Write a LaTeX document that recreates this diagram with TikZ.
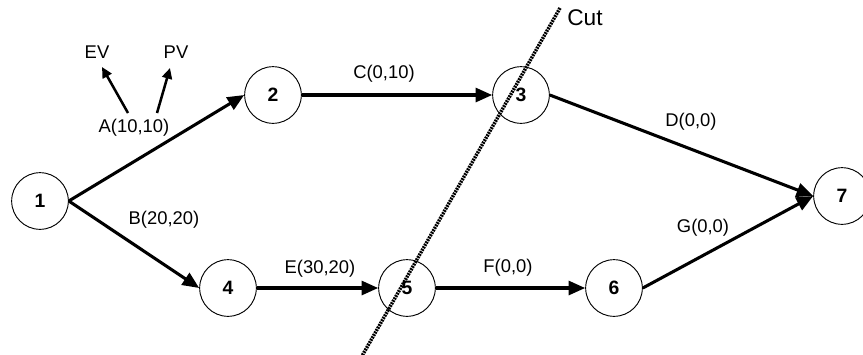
\documentclass[tikz,border=0pt]{standalone}
\usepackage{fontspec}
\setmainfont{Liberation Sans}
\usetikzlibrary{arrows.meta}
\begin{document}
\begin{tikzpicture}[x=0.75pt,y=-0.75pt,
  event/.style={circle,draw,line width=0.7pt,fill=white,inner sep=0pt,minimum size=42.5pt,font=\fontsize{14.5}{17}\selectfont\bfseries},
  act/.style={line width=2.3pt,-{Triangle[length=12.5pt,width=10.5pt]}},
  small/.style={line width=1.9pt,-{Triangle[length=8pt,width=7.5pt]}},
  lbl/.style={font=\fontsize{13.8}{16}\selectfont,inner sep=0pt},
  cutline/.style={line width=2.6pt,dash pattern=on 1.4pt off 0.7pt}]
\useasboundingbox (0,0) rectangle (863,354);
\node[event] (n1) at (40,201) {1};
\node[event] (n2) at (273,95) {2};
\node[event] (n3) at (521,95) {3};
\node[event] (n4) at (228,288) {4};
\node[event] (n5) at (407,288) {5};
\node[event] (n6) at (614,288) {6};
\node[event] (n7) at (842,196) {7};
\draw[act] (n1.east) -- (n2.west);
\draw[act] (n1.east) -- (n4.west);
\draw[act] (n2.east) -- (n3.west);
\draw[act] (n3.east) -- (n7.west);
\draw[act] (n4.east) -- (n5.west);
\draw[act] (n5.east) -- (n6.west);
\draw[act] (n6.east) -- (n7.west);
\node[lbl] (la) at (134,128) {A(10,10)};
\node[lbl] (lb) at (164,220) {B(20,20)};
\node[lbl] (lc) at (384,74) {C(0,10)};
\node[lbl] (ld) at (691,122) {D(0,0)};
\node[lbl] (le) at (320,269) {E(30,20)};
\node[lbl] (lf) at (508,268) {F(0,0)};
\node[lbl] (lg) at (703,228) {G(0,0)};
\node[lbl] (ev) at (97,52) {EV};
\node[lbl] (pv) at (176,52) {PV};
\coordinate (evs) at (128,113);
\coordinate (evt) at (102,67);
\coordinate (pvs) at (157,113);
\coordinate (pvt) at (170,68);
\draw[small] (evs) -- (evt);
\draw[small] (pvs) -- (pvt);
\coordinate (cuta) at (560,8);
\coordinate (cutb) at (362,356);
\draw[cutline] (cuta) -- (cutb);
\node[lbl,font=\fontsize{17}{20}\selectfont] (cut) at (585,18) {Cut};
\end{tikzpicture}
\end{document}
